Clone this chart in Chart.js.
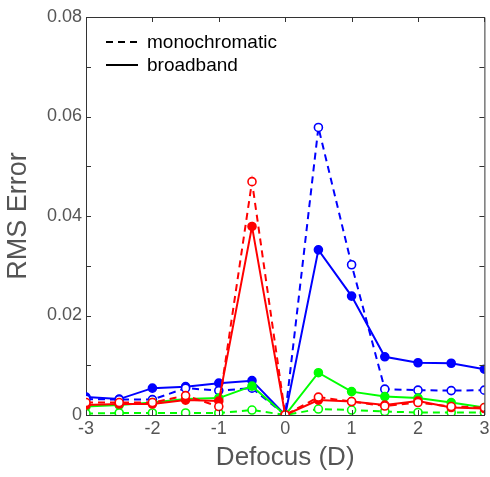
<!DOCTYPE html>
<html>
<head>
<meta charset="utf-8">
<script src="https://cdn.jsdelivr.net/npm/chart.js@4/dist/chart.umd.min.js"></script>
<style>
  html, body { margin: 0; padding: 0; background: #fff; }
  canvas { display: block; }
</style>
</head>
<body>
<canvas id="rms" width="490" height="477"></canvas>
<script>
// defocus positions (D)
const defocus = [-3, -2.5, -2, -1.5, -1, -0.5, 0, 0.5, 1, 1.5, 2, 2.5, 3];

// RMS error
const blueBroad = [0.0036, 0.0032, 0.0054, 0.0057, 0.0064, 0.0069, 0, 0.0332, 0.0239, 0.0117, 0.0105, 0.0104, 0.0092];
const blueMono = [0.0032, 0.0031, 0.0031, 0.0054, 0.0049, 0.0054, 0, 0.0578, 0.0302, 0.0052, 0.0050, 0.0049, 0.0050];
const greenBroad = [0.0017, 0.0020, 0.0025, 0.0032, 0.0034, 0.0058, 0, 0.0085, 0.0047, 0.0037, 0.0034, 0.0025, 0.0015];
const greenMono = [0.0003, 0.0004, 0.0004, 0.0004, 0.0004, 0.0010, 0, 0.0012, 0.0010, 0.0007, 0.0005, 0.0005, 0.0005];
const redBroad = [0.0020, 0.0022, 0.0022, 0.0030, 0.0028, 0.0379, 0, 0.0030, 0.0027, 0.0020, 0.0028, 0.0015, 0.0013];
const redMono = [0.0025, 0.0025, 0.0025, 0.0039, 0.0017, 0.0469, 0, 0.0036, 0.0027, 0.0018, 0.0025, 0.0017, 0.0015];

const FONT = '"Liberation Sans", Arial, sans-serif';
const TEXT = '#555';
const AXIS = '#333';

const pts = arr => arr.map((v, i) => ({ x: defocus[i], y: v }));

function series(values, color, mono) {
    return {
        data: pts(values),
        borderColor: color,
        borderWidth: 2,
        borderDash: mono ? [7, 5] : [],
        pointRadius: 4,
        pointBorderWidth: 1.6,
        pointBorderColor: color,
        pointBackgroundColor: mono ? '#fff' : color,
        fill: false,
        tension: 0
    };
}

// MATLAB-style box with inward ticks
const boxTicks = {
    id: 'boxTicks',
    afterDraw(chart) {
        const { ctx, chartArea: a, scales: { x, y } } = chart;
        ctx.save();
        ctx.strokeStyle = AXIS;
        ctx.lineWidth = 1;
        ctx.beginPath();
        ctx.moveTo(a.left, a.top + 0.5);
        ctx.lineTo(a.right + 0.5, a.top + 0.5);
        ctx.lineTo(a.right + 0.5, a.bottom);
        x.ticks.forEach(t => {
            const px = Math.round(x.getPixelForValue(t.value)) + 0.5;
            ctx.moveTo(px, a.bottom); ctx.lineTo(px, a.bottom - 5);
            ctx.moveTo(px, a.top); ctx.lineTo(px, a.top + 5);
        });
        y.ticks.forEach(t => {
            const py = Math.round(y.getPixelForValue(t.value)) + 0.5;
            ctx.moveTo(a.left, py); ctx.lineTo(a.left + 5, py);
            ctx.moveTo(a.right, py); ctx.lineTo(a.right - 5, py);
        });
        ctx.stroke();
        ctx.restore();
    }
};

const lineLegend = {
    id: 'lineLegend',
    afterDraw(chart) {
        const { ctx } = chart;
        ctx.save();
        ctx.strokeStyle = '#000';
        ctx.lineWidth = 2;
        ctx.setLineDash([7, 5]);
        ctx.beginPath(); ctx.moveTo(106, 42); ctx.lineTo(138, 42); ctx.stroke();
        ctx.setLineDash([]);
        ctx.beginPath(); ctx.moveTo(106, 65); ctx.lineTo(138, 65); ctx.stroke();
        ctx.fillStyle = '#000';
        ctx.font = '19px ' + FONT;
        ctx.textBaseline = 'middle';
        ctx.fillText('monochromatic', 147, 43);
        ctx.fillText('broadband', 147, 66);
        ctx.restore();
    }
};

new Chart(document.getElementById('rms'), {
    type: 'line',
    data: {
        datasets: [
            series(redMono, '#ff0000', true),
            series(redBroad, '#ff0000', false),
            series(greenMono, '#00ff00', true),
            series(greenBroad, '#00ff00', false),
            series(blueMono, '#0000ff', true),
            series(blueBroad, '#0000ff', false)
        ]
    },
    options: {
        responsive: false,
        animation: false,
        layout: { padding: { top: 17, right: 5, left: 0, bottom: 0 } },
        plugins: { legend: { display: false }, tooltip: { enabled: false } },
        scales: {
            x: {
                type: 'linear',
                min: -3,
                max: 3,
                grid: { display: false, drawTicks: false },
                border: { color: AXIS, width: 1 },
                ticks: { stepSize: 1, padding: 3, color: TEXT, font: { family: FONT, size: 18 } },
                title: { display: true, text: 'Defocus (D)', color: TEXT, font: { family: FONT, size: 26 }, padding: { top: 0, bottom: 4 } },
                afterFit(scale) {
                    scale.height = 62;
                    scale.paddingRight = 0;
                    scale.paddingLeft = 0;
                }
            },
            y: {
                min: 0,
                max: 0.08,
                grid: { display: false, drawTicks: false },
                border: { color: AXIS, width: 1 },
                ticks: {
                    stepSize: 0.01,
                    autoSkip: false,
                    padding: 4,
                    color: TEXT,
                    font: { family: FONT, size: 18 },
                    callback(v) {
                        const k = Math.round(v * 100);
                        if (k % 2 !== 0) return '';
                        return k === 0 ? '0' : (k / 100).toFixed(2);
                    }
                },
                title: { display: true, text: 'RMS Error', color: TEXT, font: { family: FONT, size: 27 }, padding: { top: 2, bottom: 0 } },
                afterFit(scale) {
                    scale.width = 86;
                    scale.paddingTop = 0;
                    scale.paddingBottom = 0;
                }
            }
        }
    },
    plugins: [boxTicks, lineLegend]
});
</script>
</body>
</html>
